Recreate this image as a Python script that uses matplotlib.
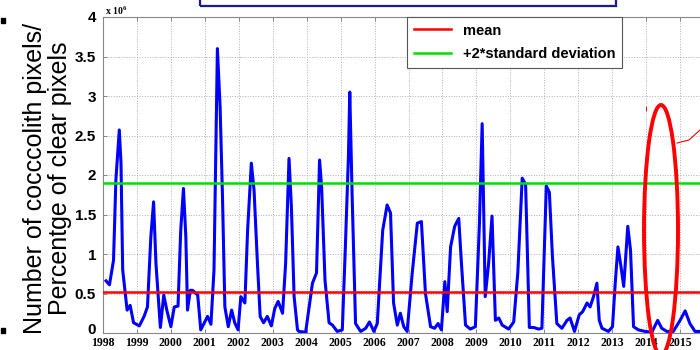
import numpy as np
import matplotlib.pyplot as plt
import matplotlib.transforms as mtransforms
from matplotlib.patches import Rectangle, Ellipse
from matplotlib.lines import Line2D

# time (decimal years) and value (x 10^6) of the plotted series
years = [1998.09, 1998.19, 1998.31, 1998.38, 1998.48, 1998.53, 1998.58, 1998.71, 1998.80, 1998.90,
         1999.07, 1999.21, 1999.31, 1999.41, 1999.49, 1999.56, 1999.69, 1999.79, 1999.88,
         2000.00, 2000.10, 2000.21, 2000.29, 2000.37, 2000.44, 2000.49, 2000.57, 2000.64, 2000.79, 2000.88,
         2001.08, 2001.18, 2001.27, 2001.37, 2001.45, 2001.52, 2001.59, 2001.69, 2001.79, 2001.88, 2001.98,
         2002.06, 2002.18, 2002.26, 2002.37, 2002.45, 2002.55, 2002.63, 2002.73, 2002.84, 2002.96,
         2003.06, 2003.16, 2003.29, 2003.38, 2003.48, 2003.55, 2003.63, 2003.73, 2003.77, 2003.97,
         2004.17, 2004.29, 2004.38, 2004.44, 2004.54, 2004.66, 2004.76, 2004.90,
         2005.05, 2005.14, 2005.23, 2005.27, 2005.34, 2005.44, 2005.59, 2005.74, 2005.85, 2005.98,
         2006.08, 2006.24, 2006.37, 2006.47, 2006.56, 2006.67, 2006.76, 2006.86, 2006.96,
         2007.11, 2007.26, 2007.38, 2007.50, 2007.65, 2007.77, 2007.87, 2007.97,
         2008.07, 2008.14, 2008.24, 2008.36, 2008.48, 2008.56, 2008.68, 2008.82, 2008.97,
         2009.09, 2009.17, 2009.26, 2009.36, 2009.46, 2009.56, 2009.66, 2009.76, 2009.95,
         2010.10, 2010.22, 2010.35, 2010.45, 2010.56, 2010.69, 2010.83, 2010.93,
         2011.06, 2011.15, 2011.24, 2011.37, 2011.52, 2011.67, 2011.76, 2011.89,
         2012.03, 2012.13, 2012.26, 2012.35, 2012.45, 2012.55, 2012.62, 2012.70, 2012.89,
         2013.01, 2013.09, 2013.17, 2013.26, 2013.34, 2013.46, 2013.54, 2013.63, 2013.77, 2013.97,
         2014.17, 2014.34, 2014.46, 2014.61, 2014.80,
         2015.00, 2015.15, 2015.29, 2015.44, 2015.59, 2015.75]
values = [0.66, 0.61, 0.92, 1.94, 2.57, 2.15, 0.80, 0.29, 0.35, 0.13,
          0.09, 0.21, 0.33, 1.22, 1.66, 0.88, 0.07, 0.48, 0.29,
          0.08, 0.33, 0.34, 1.30, 1.83, 1.22, 0.29, 0.54, 0.54, 0.48, 0.04,
          0.21, 0.11, 0.80, 3.60, 2.86, 1.73, 0.33, 0.08, 0.29, 0.13, 0.04,
          0.46, 0.38, 1.30, 2.15, 1.81, 0.88, 0.21, 0.13, 0.21, 0.09,
          0.31, 0.40, 0.25, 0.88, 2.21, 1.60, 0.46, 0.04, 0.02, 0.01,
          0.63, 0.76, 2.19, 1.85, 0.67, 0.13, 0.10, 0.02,
          0.04, 1.09, 2.23, 3.05, 1.73, 0.12, 0.02, 0.06, 0.14, 0.02,
          0.12, 1.30, 1.62, 1.52, 0.38, 0.10, 0.25, 0.08, 0.02,
          0.76, 1.39, 1.41, 0.50, 0.08, 0.06, 0.12, 0.04,
          0.65, 0.27, 1.09, 1.35, 1.45, 0.88, 0.10, 0.05, 0.08,
          1.39, 2.65, 0.46, 0.88, 1.48, 0.16, 0.19, 0.10, 0.05,
          0.14, 0.76, 1.96, 1.88, 0.07, 0.07, 0.05, 0.06,
          1.86, 1.78, 0.97, 0.12, 0.06, 0.16, 0.19, 0.02,
          0.23, 0.27, 0.38, 0.33, 0.46, 0.63, 0.16, 0.06, 0.02,
          0.08, 0.63, 1.09, 0.84, 0.59, 1.35, 1.05, 0.08, 0.04, 0.02,
          0.01, 0.16, 0.06, 0.02, 0.02,
          0.16, 0.28, 0.12, 0.02, 0.02, 0.02]

mean_val = 0.52       # x 10^6
std2_val = 1.90       # mean + 2*std, x 10^6

year_ticks = list(range(1998, 2016))
y_ticks = [0, 0.5, 1, 1.5, 2, 2.5, 3, 3.5, 4]
y_labels = ['0', '0.5', '1', '1.5', '2', '2.5', '3', '3.5', '4']

plt.rcParams['mathtext.default'] = 'regular'

fig = plt.figure(figsize=(7, 3.5), dpi=100)
# axes run off the right edge like the cropped screenshot
ax = fig.add_axes([103 / 700, 17 / 350, 611 / 700, 316 / 350])

ax.plot(years, values, color='#0000ff', lw=2.2, zorder=3)
ax.axhline(mean_val, color='#ff0000', lw=1.8, label='mean', zorder=4)
ax.axhline(std2_val, color='#00e000', lw=1.8, label='+2*standard deviation', zorder=4)

ax.set_xlim(1998, 2016)
ax.set_ylim(0, 4)
ax.set_xticks(year_ticks)
ax.set_xticklabels([str(y) for y in year_ticks], fontfamily='Liberation Serif',
                   fontweight='bold', fontsize=8.5)
ax.set_yticks(y_ticks)
ax.set_yticklabels(y_labels, fontfamily='Liberation Sans', fontweight='bold', fontsize=11)
ax.tick_params(direction='in', top=True, right=True, length=3, width=0.6, color='#777777')
ax.tick_params(axis='x', pad=3)
ax.tick_params(axis='y', pad=5)
ax.grid(True, linestyle=':', color='#b0b0b0', lw=0.7)
for s in ax.spines.values():
    s.set_color('#888888')
    s.set_linewidth(0.8)

# the "0" label sits a little higher than its tick
zero_lbl = ax.get_yticklabels()[0]
zero_lbl.set_transform(zero_lbl.get_transform() +
                       mtransforms.ScaledTranslation(0, 4 / 100, fig.dpi_scale_trans))

ax.text(0.004, 1.0, 'x 10$^6$', transform=ax.transAxes, fontfamily='Liberation Serif',
        fontsize=7, fontweight='bold', va='bottom', ha='left')

leg = ax.legend(loc='upper left', bbox_to_anchor=(407 / 700, 333 / 350),
                bbox_transform=fig.transFigure, fancybox=False, framealpha=1,
                edgecolor='#555555', borderaxespad=0, handlelength=2.6,
                prop={'family': 'Liberation Sans', 'weight': 'bold', 'size': 10.5},
                labelspacing=0.65, borderpad=0.45)
leg.get_frame().set_linewidth(0.8)

fig.text(47.5 / 700, 172 / 350, 'Number of cocccolith pixels/\nPercentge of clear pixels',
         rotation=90, ha='center', va='center', multialignment='center',
         fontfamily='Liberation Sans', fontsize=18, linespacing=1.1)

# slide decorations around the chart
fig.patches.append(Rectangle((200 / 700, 344 / 350), 416 / 700, 20 / 350,
                             transform=fig.transFigure, fill=False,
                             edgecolor='#1a1a8c', lw=1.6))
fig.patches.append(Ellipse((661 / 700, 120 / 350), 34 / 700, 250 / 350,
                           transform=fig.transFigure, fill=False,
                           edgecolor='#ff0000', lw=2.8, zorder=10))
fig.lines.append(Line2D([677 / 700, 689 / 700, 700 / 700], [207 / 350, 210 / 350, 220 / 350],
                        transform=fig.transFigure, color='#ff0000', lw=0.8))
fig.lines.append(Line2D([646 / 700, 646 / 700], [240 / 350, 243 / 350],
                        transform=fig.transFigure, color='#ff0000', lw=0.8))
fig.patches.append(Rectangle((1 / 700, 327 / 350), 4 / 700, 5 / 350,
                             transform=fig.transFigure, color='black'))
fig.patches.append(Rectangle((1 / 700, 17 / 350), 4 / 700, 5 / 350,
                             transform=fig.transFigure, color='black'))

plt.savefig('out.png', dpi=100)
